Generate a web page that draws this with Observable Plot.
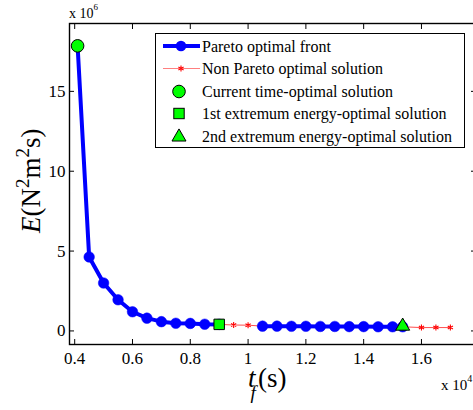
<!DOCTYPE html>
<html>
<head>
<meta charset="utf-8">
<script src="https://cdn.jsdelivr.net/npm/d3@7"></script>
<script src="https://cdn.jsdelivr.net/npm/@observablehq/plot@0.6"></script>
<style>
  html, body { margin: 0; padding: 0; background: white; overflow: hidden; }
  #chart { position: relative; width: 473px; height: 410px; }
  #chart svg { overflow: hidden; }
  #chart svg text { font-family: "Liberation Serif", "Times New Roman", serif !important; }
</style>
</head>
<body>
<div id="chart"></div>
<script>
// ---- data (x in units of 1e4 s, E in units of 1e6 N^2 m^2 s) ----
const paretoX1 = [0.41, 0.45, 0.50, 0.55, 0.60, 0.65, 0.70, 0.75, 0.80, 0.85, 0.90];
const paretoY1 = [17.85, 4.63, 3.00, 1.95, 1.20, 0.80, 0.58, 0.48, 0.47, 0.42, 0.41];
const paretoX2 = [1.05, 1.10, 1.15, 1.20, 1.25, 1.30, 1.35, 1.40, 1.45, 1.50, 1.535];
const paretoY2 = [0.30, 0.30, 0.29, 0.29, 0.28, 0.28, 0.27, 0.27, 0.26, 0.26, 0.26];
const nonParetoX1 = [0.90, 0.95, 1.00, 1.05];
const nonParetoY1 = [0.41, 0.37, 0.36, 0.30];
const nonParetoX2 = [1.535, 1.60, 1.65, 1.70];
const nonParetoY2 = [0.26, 0.21, 0.21, 0.21];
const timeOptimal = [{x: 0.41, y: 17.85}];
const extremum1 = [{x: 0.90, y: 0.41}];
const extremum2 = [{x: 1.535, y: 0.30}];
const xTicks = [0.4, 0.6, 0.8, 1.0, 1.2, 1.4, 1.6, 1.8];
const xTickLabels = ["0.4", "0.6", "0.8", "1", "1.2", "1.4", "1.6", ""];
const yTicks = [0, 5, 10, 15];
const legendLabels = [
  "Pareto optimal front",
  "Non Pareto optimal solution",
  "Current time-optimal solution",
  "1st extremum energy-optimal solution",
  "2nd extremum energy-optimal solution"
];

const zip = (xs, ys) => xs.map((x, i) => ({x, y: ys[i]}));
const front1 = zip(paretoX1, paretoY1);
const front2 = zip(paretoX2, paretoY2);
const non1 = zip(nonParetoX1, nonParetoY1);
const non2 = zip(nonParetoX2, nonParetoY2);

const BLUE = "#0000ff", RED = "#ff0000", GREEN = "#00ff00";
const fmt = (d) => xTickLabels[xTicks.indexOf(d)] ?? "";
const serif = "Liberation Serif, Times New Roman, serif";

const plot = Plot.plot({
  width: 473,
  height: 410,
  marginLeft: 69,
  marginRight: -2,
  marginTop: 23,
  marginBottom: 66,
  x: {domain: [0.382, 1.787]},
  y: {domain: [-0.85, 19.25]},
  style: {fontFamily: serif, fontSize: "17px", color: "black", background: "white"},
  marks: [
    // red non-Pareto segments
    Plot.line(non1, {x: "x", y: "y", stroke: RED, strokeWidth: 1, strokeOpacity: 0.7}),
    Plot.line(non2, {x: "x", y: "y", stroke: RED, strokeWidth: 1, strokeOpacity: 0.7}),
    Plot.dot(non1.slice(1), {x: "x", y: "y", symbol: "asterisk", r: 2.8, stroke: RED, strokeWidth: 1.1}),
    Plot.dot(non2.slice(1), {x: "x", y: "y", symbol: "asterisk", r: 2.8, stroke: RED, strokeWidth: 1.1}),
    // Pareto front
    Plot.line(front1, {x: "x", y: "y", stroke: BLUE, strokeWidth: 4}),
    Plot.line(front2, {x: "x", y: "y", stroke: BLUE, strokeWidth: 4}),
    Plot.dot(front1, {x: "x", y: "y", r: 5.3, fill: BLUE, stroke: BLUE, strokeWidth: 0.5}),
    Plot.dot(front2, {x: "x", y: "y", r: 5.3, fill: BLUE, stroke: BLUE, strokeWidth: 0.5}),
    // special solutions
    Plot.dot(timeOptimal, {x: "x", y: "y", r: 6.3, fill: GREEN, stroke: "black", strokeWidth: 1}),
    Plot.dot(extremum1, {x: "x", y: "y", symbol: "square", r: 5.9, fill: GREEN, stroke: "black", strokeWidth: 1}),
    Plot.dot(extremum2, {x: "x", y: "y", symbol: "triangle", r: 5.2, fill: GREEN, stroke: "black", strokeWidth: 1}),
    // box and ticks
    Plot.frame({stroke: "black", strokeWidth: 1.4}),
    Plot.axisX(xTicks, {anchor: "bottom", tickSize: -5, tickPadding: 12, tickFormat: fmt, label: null, strokeWidth: 1}),
    Plot.axisX(xTicks, {anchor: "top", tickSize: -5, tickPadding: 0, tickFormat: () => "", label: null, strokeWidth: 1}),
    Plot.axisY(yTicks, {anchor: "left", tickSize: -5, tickPadding: 9, label: null, strokeWidth: 1}),
    Plot.axisY(yTicks, {anchor: "right", tickSize: -5, tickPadding: 0, tickFormat: () => "", label: null, strokeWidth: 1})
  ]
});

document.getElementById("chart").appendChild(plot);

const svg = d3.select(plot);

// exponent labels
const e6 = svg.append("text").attr("x", 69).attr("y", 18).attr("text-anchor", "start")
  .attr("font-size", 14).attr("fill", "black");
e6.append("tspan").text("x 10");
e6.append("tspan").attr("dy", -8).attr("font-size", 9).text("6");

const e4 = svg.append("text").attr("x", 441).attr("y", 390).attr("text-anchor", "start")
  .attr("font-size", 15).attr("fill", "black");
e4.append("tspan").text("x 10");
e4.append("tspan").attr("dy", -8).attr("font-size", 10).text("4");

// y label
const yl = svg.append("text")
  .attr("transform", "translate(40,233) rotate(-90)").attr("text-anchor", "start")
  .attr("font-size", 27).attr("fill", "black");
yl.append("tspan").attr("font-style", "italic").text("E");
yl.append("tspan").text("(N");
yl.append("tspan").attr("dy", -11).attr("font-size", 19).text("2");
yl.append("tspan").attr("dy", 11).text("m");
yl.append("tspan").attr("dy", -11).attr("font-size", 19).text("2");
yl.append("tspan").attr("dy", 11).text("s)");

// x label: t_f(s)
const xl = svg.append("text").attr("x", 248).attr("y", 387).attr("text-anchor", "start")
  .attr("font-size", 27).attr("fill", "black");
xl.append("tspan").attr("font-style", "italic").text("t");
xl.append("tspan").attr("dx", -5).attr("dy", 12).attr("font-size", 19).attr("font-style", "italic").text("f");
xl.append("tspan").attr("x", 258).attr("dy", -12).text("(s)");

// legend
const lg = svg.append("g").attr("font-size", 16).attr("text-anchor", "start");
lg.append("rect").attr("x", 155.5).attr("y", 33.5).attr("width", 309).attr("height", 114)
  .attr("fill", "white").attr("stroke", "black").attr("stroke-width", 1);
const rowY = [46, 68.5, 91.5, 113.5, 136];
const sx = 181;
// row 0: Pareto
lg.append("line").attr("x1", 163).attr("x2", 200).attr("y1", rowY[0]).attr("y2", rowY[0]).attr("stroke", BLUE).attr("stroke-width", 4);
lg.append("circle").attr("cx", sx).attr("cy", rowY[0]).attr("r", 5.3).attr("fill", BLUE);
// row 1: non-Pareto
lg.append("line").attr("x1", 163).attr("x2", 200).attr("y1", rowY[1]).attr("y2", rowY[1]).attr("stroke", RED).attr("stroke-opacity", 0.5).attr("stroke-width", 1);
lg.append("path").attr("transform", `translate(${sx},${rowY[1]})`).attr("d", d3.symbol(d3.symbolAsterisk, Math.PI * 2.8 * 2.8)()).attr("stroke", RED).attr("stroke-width", 1.1).attr("fill", "none");
// row 2: circle
lg.append("circle").attr("cx", sx - 2).attr("cy", rowY[2]).attr("r", 6.3).attr("fill", GREEN).attr("stroke", "black");
// row 3: square
lg.append("rect").attr("x", sx - 2 - 5.2).attr("y", rowY[3] - 5.2).attr("width", 10.4).attr("height", 10.4).attr("fill", GREEN).attr("stroke", "black");
// row 4: triangle
lg.append("path").attr("transform", `translate(${sx - 2},${rowY[4] + 1})`).attr("d", d3.symbol(d3.symbolTriangle, Math.PI * 5.2 * 5.2)()).attr("fill", GREEN).attr("stroke", "black");
legendLabels.forEach((t, i) => {
  lg.append("text").attr("x", 202).attr("y", rowY[i] + 5.5).attr("text-anchor", "start").attr("fill", "black").text(t);
});
</script>
</body>
</html>
